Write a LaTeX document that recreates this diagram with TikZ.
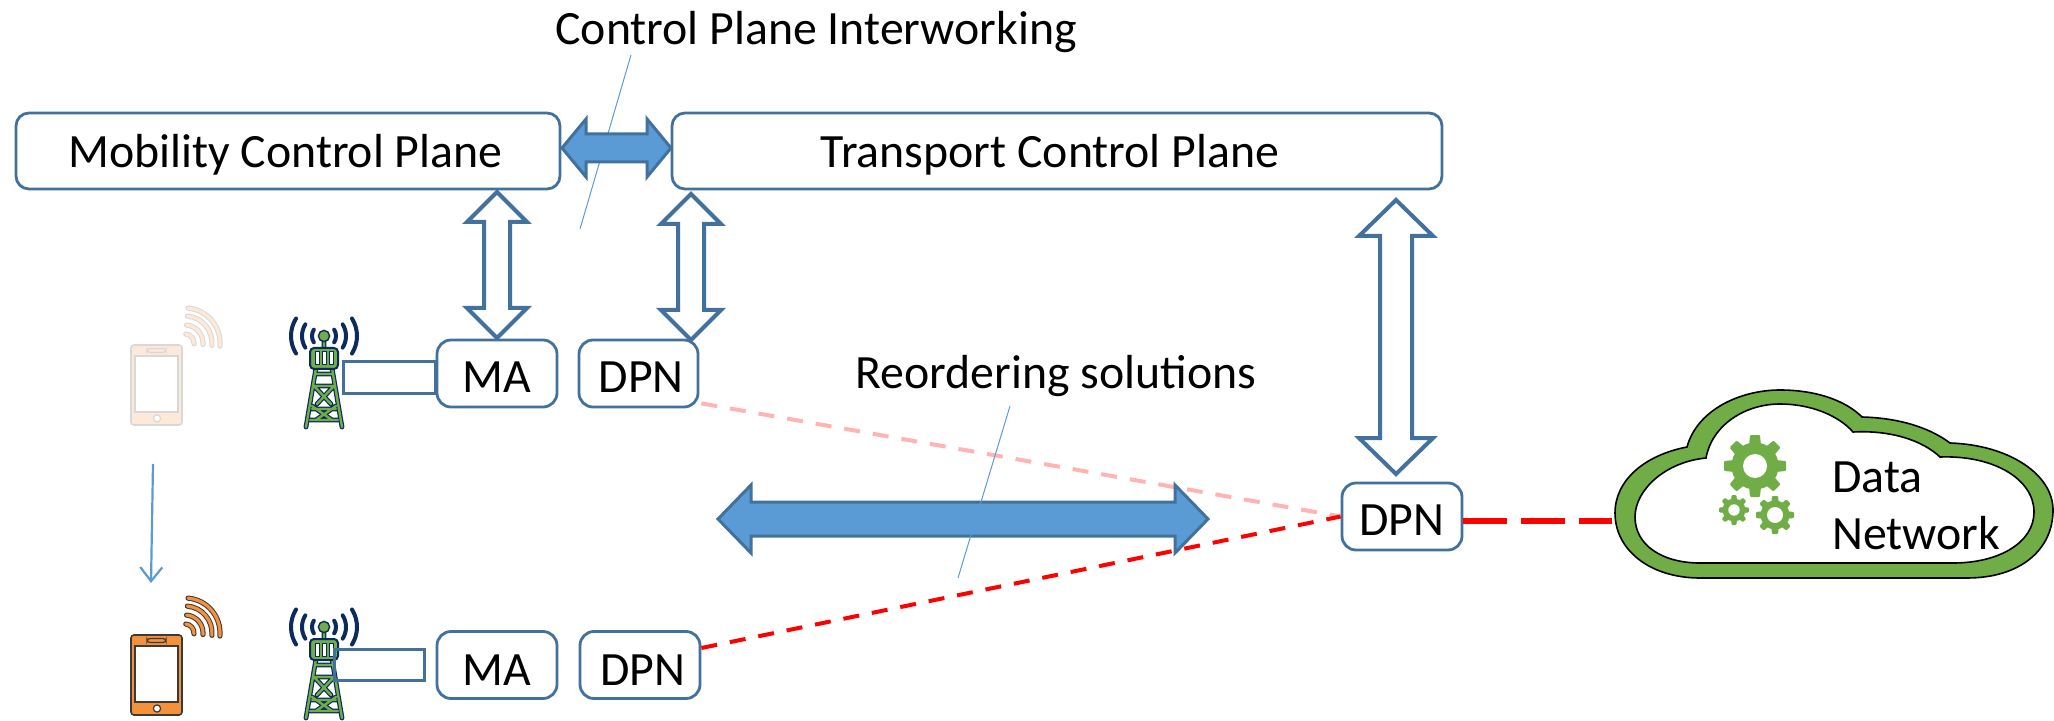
\documentclass[tikz,border=0pt]{standalone}
\usepackage{fontspec}
\setmainfont{Carlito}
\usetikzlibrary{calc,arrows.meta}
\definecolor{boxline}{HTML}{41719C}
\definecolor{fillblue}{HTML}{5B9BD5}
\definecolor{cloudgreen}{HTML}{70AD47}
\definecolor{navy}{HTML}{0B2A5E}
\definecolor{phoneorange}{HTML}{F5913A}
\definecolor{phonedark}{HTML}{3A3A3A}
\definecolor{softred}{HTML}{FFB3B3}
\tikzset{
  x=0.5pt,y=-0.5pt,
  bigtext/.style={font=\fontsize{23.9}{28}\selectfont,text=black},
  plain/.style={bigtext,inner sep=0pt,anchor=base},
  plane/.style={bigtext,draw=boxline,line width=1.4pt,fill=white,rounded corners=6.5pt,inner sep=0pt,text height=17pt,text depth=0pt,minimum height=38pt},
  small/.style={bigtext,draw=boxline,line width=1.4pt,fill=white,rounded corners=7pt,inner sep=0pt,text height=19pt,text depth=0pt,minimum height=33.5pt},
  hollow/.style={draw=boxline,line width=2pt,fill=white,miter limit=10},
  solidarrow/.style={draw=boxline,line width=1.5pt,fill=fillblue,miter limit=10},
  thinblue/.style={draw=fillblue,line width=0.5pt},
  linkbox/.style={draw=boxline,line width=1.5pt,fill=none,minimum width=46pt,minimum height=15.5pt,inner sep=0pt},
  softlink/.style={draw=softred,line width=2pt,dash pattern=on 8pt off 6.5pt},
  redlink/.style={draw=red,line width=2pt,dash pattern=on 8pt off 6.5pt},
  thicklink/.style={draw=red,line width=3pt,dash pattern=on 22pt off 7pt},
  pics/antenna/.style={code={
    % radio waves
    \foreach \r in {12,22,33}{
      \draw[navy,line width=2pt,line cap=round] (-32:\r) arc[start angle=32,end angle=-32,radius=\r*0.5pt];
      \draw[navy,line width=2pt,line cap=round] (-148:\r) arc[start angle=148,end angle=212,radius=\r*0.5pt];
    }
    % legs and bracing
    \foreach \lw/\col in {2.4pt/navy,1.2pt/cloudgreen}{
      \draw[\col,line width=\lw,line join=round,line cap=round]
        (0,0) -- (0,12)
        (-8,32) -- (-18,91) (8,32) -- (18,91)
        (-9,38) -- (9,38) (-10,50) -- (7,68) (10,50) -- (-7,68)
        (-12,73) -- (12,73) (-10,50) -- (10,50) (-12,70) -- (8,84) (12,70) -- (-8,84) (-14,84) -- (14,84);
    }
    \fill[cloudgreen,draw=navy,line width=0.7pt] (0,0) circle[radius=2.8pt];
    \draw[navy,line width=1pt,fill=cloudgreen,rounded corners=2pt] (-14,12) rectangle (14,33);
    \foreach \d in {-9,-2,5}{
      \draw[navy,line width=0.5pt,fill=white] (\d,16) rectangle ++(4,13);
    }
  }},
  pics/handset/.style={code={
    \draw[phonedark,line width=0.8pt,fill=phoneorange,rounded corners=1.5pt] (0,0) rectangle (51,80);
    \draw[phonedark,line width=0.8pt,fill=white] (4,11) rectangle (47,67);
    \draw[phonedark,line width=0.6pt,fill=phoneorange,rounded corners=1.5pt] (16,3.5) rectangle (35,7.5);
    \draw[phonedark,line width=0.6pt,fill=white] (26,73.5) circle[radius=1.8pt];
    \foreach \r in {9,18,27,35}{
      \draw[phonedark,line width=2.6pt,line cap=round] (54,-2) ++(5:\r) arc[start angle=-5,end angle=85,radius=\r*0.5pt];
      \draw[phoneorange,line width=1.6pt,line cap=round] (54,-2) ++(5:\r) arc[start angle=-5,end angle=85,radius=\r*0.5pt];
    }
  }},
  pics/gear/.style n args={3}{code={
    \fill[cloudgreen] (0,0) circle[radius=#1*0.38pt];
    \foreach \a in {0,45,...,315}{
      \fill[cloudgreen,rotate=\a,rounded corners=0.5pt] (-#1*0.2,-#1*0.6) -- (#1*0.2,-#1*0.6) -- (#1*0.16,-#1) -- (-#1*0.16,-#1) -- cycle;
    }
    \fill[white] (0,0) circle[radius=#2*0.5pt];
  }},
}
% block arrow whose tips are the named coordinates #2 and #3; half-widths #4 (shaft), #5 (head), length #6 (head)
\newcommand{\vblock}[6]{%
  \draw[#1] (#2) -- ++(#5,#6) -- ++(#4-#5,0) -- ($(#3)+(#4,-#6)$) -- ++(#5-#4,0) -- (#3) -- ++(-#5,-#6) -- ++(#5-#4,0) -- ($(#2)+(-#4,#6)$) -- ++(#4-#5,0) -- cycle;}
\newcommand{\hblock}[6]{%
  \draw[#1] (#2) -- ++(#6,-#5) -- ++(0,#5-#4) -- ($(#3)+(-#6,-#4)$) -- ++(0,#4-#5) -- (#3) -- ++(-#6,#5) -- ++(0,#4-#5) -- ($(#2)+(#6,#4)$) -- ++(0,#5-#4) -- cycle;}
\begin{document}
\begin{tikzpicture}
\useasboundingbox (0,0) rectangle (2054,721);

% titles
\node[plain,anchor=base west] (cpititle) at (555,44.5) {Control Plane Interworking};
\node[plain,anchor=base west] (reordertitle) at (855,388.5) {Reordering solutions};

% thin leader lines
\coordinate (cpitop) at (631,55);
\coordinate (cpibot) at (580,229);
\coordinate (reotop) at (1010,406);
\coordinate (reobot) at (958,578);
\draw[thinblue] (cpitop) -- (cpibot);

% planes
\node[plane,minimum width=272pt] (mobility) at (288,151) {Mobility Control Plane\kern2.6pt};
\node[plane,minimum width=385pt] (transport) at (1057,151) {Transport Control Plane\kern7pt};

% tower link box
\node[linkbox] (linkup) at (389,377.5) {};

% access nodes
\node[small,minimum width=60pt] (maup) at (497,373.5) {MA};
\node[small,minimum width=59.5pt] (dpnup) at (638.5,373.5) {\hspace{2.6pt}DPN};
\node[small,minimum width=60pt,text height=20pt] (madown) at (497,665) {MA};
\node[small,minimum width=60pt,text height=20pt] (dpndown) at (640,665) {\hspace{2.6pt}DPN};
\node[small,minimum width=60pt] (dpncore) at (1402,516.5) {DPN};

% data-plane links
\draw[softlink] (dpnup.south east) ++(2,-5) coordinate (softstart) (softstart) -- (dpncore.west);
\draw[redlink] (dpndown.east) ++(0,-17) coordinate (redstart) (redstart) -- (dpncore.west);

% control arrows
\coordinate (hatop) at (497,192);
\coordinate (habot) at (497,338);
\coordinate (hbtop) at (691,194);
\coordinate (hbbot) at (691,340);
\coordinate (hctop) at (1396,200);
\coordinate (hcbot) at (1396,474);
\vblock{hollow}{hatop}{habot}{13}{30}{30}
\vblock{hollow}{hbtop}{hbbot}{13}{30}{30}
\vblock{hollow}{hctop}{hcbot}{16}{37}{36}
\coordinate (cpileft) at (562,148);
\coordinate (cpiright) at (671,148);
\hblock{solidarrow}{cpileft}{cpiright}{14}{29}{24}
\coordinate (reoleft) at (718,519);
\coordinate (reoright) at (1208,519);
\hblock{solidarrow}{reoleft}{reoright}{17}{34}{33}
\draw[thinblue] (reotop) -- (reobot);

% handover arrow
\coordinate (moveup) at (153,464);
\coordinate (movedown) at (151,583);
\draw[draw=fillblue,line width=1.1pt,-{Straight Barb[length=7pt,width=11pt]}] (moveup) -- (movedown);

% devices
\begin{scope}[opacity=0.2,transparency group]
\pic at (131,345) {handset};
\end{scope}
\pic at (131,635) {handset};
\pic at (324,336) {antenna};
\pic at (324,627) {antenna};
\node[linkbox,minimum width=45pt] (linkdown) at (379,664.5) {};

% cloud
\fill[cloudgreen,draw=black,line width=0.8pt,even odd rule]
  (1687,447) .. controls (1697,410) and (1740,390) .. (1780,390)
  .. controls (1815,390) and (1845,400) .. (1862,417)
  .. controls (1900,418) and (1930,428) .. (1950,443)
  .. controls (2010,445) and (2053,475) .. (2053,510)
  .. controls (2053,550) and (2020,578) .. (1967,578)
  -- (1700,578)
  .. controls (1650,578) and (1615,550) .. (1615,513)
  .. controls (1615,480) and (1645,455) .. (1687,447) -- cycle
  (1706,458) .. controls (1712,425) and (1745,404) .. (1780,404)
  .. controls (1810,404) and (1838,415) .. (1853,432)
  .. controls (1890,430) and (1922,440) .. (1940,457)
  .. controls (1995,455) and (2034,480) .. (2034,512)
  .. controls (2034,542) and (2000,563) .. (1953,563)
  -- (1700,563)
  .. controls (1662,563) and (1635,545) .. (1635,517)
  .. controls (1635,490) and (1665,462) .. (1706,458) -- cycle;
\pic at (1755,466) {gear={31}{12}{}};
\pic at (1734,510) {gear={15}{5.7}{}};
\pic at (1775,515) {gear={19}{8}{}};
\node[plain,anchor=base west] (datatext) at (1832,492.5) {Data};
\node[plain,anchor=base west] (networktext) at (1832,549.5) {Network};
\coordinate (cloudedge) at (1612,521);
\draw[thicklink] (dpncore.east) ++(0,4.5) coordinate (thickstart) (thickstart) -- (cloudedge);
\end{tikzpicture}
\end{document}
